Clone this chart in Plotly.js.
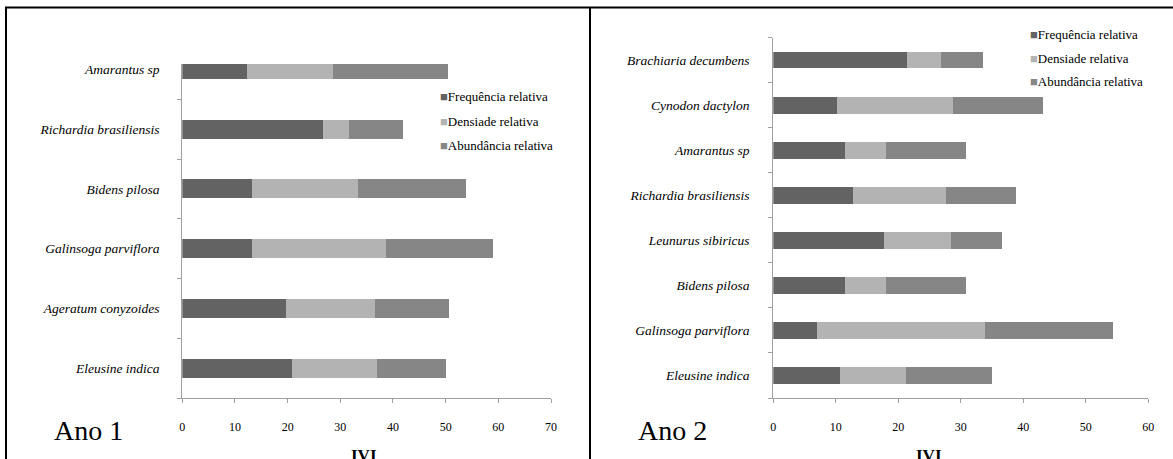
<!DOCTYPE html>
<html><head><meta charset="utf-8">
<script src="https://cdn.plot.ly/plotly-3.0.1.min.js"></script>
<style>html,body{margin:0;padding:0;background:#fff}#chart{width:1173px;height:459px}</style>
</head><body><div id="chart"></div>
<script>
const seriesNames = ['Frequência relativa', 'Densiade relativa', 'Abundância relativa'];
const seriesColors = ['#636363', '#b3b3b3', '#868686'];

// Ano 1 (listed top to bottom as in the chart)
const ano1Species = ['Amarantus sp', 'Richardia brasiliensis', 'Bidens pilosa', 'Galinsoga parviflora', 'Ageratum conyzoides', 'Eleusine indica'];
const ano1Freq  = [12.3, 26.7, 13.3, 13.3, 19.6, 20.8];
const ano1Dens  = [16.3, 4.9, 20.1, 25.3, 17.0, 16.1];
const ano1Abund = [21.8, 10.3, 20.4, 20.3, 14.1, 13.1];

// Ano 2 (listed top to bottom as in the chart)
const ano2Species = ['Brachiaria decumbens', 'Cynodon dactylon', 'Amarantus sp', 'Richardia brasiliensis', 'Leunurus sibiricus', 'Bidens pilosa', 'Galinsoga parviflora', 'Eleusine indica'];
const ano2Freq  = [21.4, 10.2, 11.4, 12.8, 17.7, 11.4, 7.0, 10.6];
const ano2Dens  = [5.4, 18.6, 6.6, 14.8, 10.8, 6.6, 26.8, 10.7];
const ano2Abund = [6.8, 14.4, 12.9, 11.3, 8.1, 12.9, 20.5, 13.7];

const xTicks1 = [0, 10, 20, 30, 40, 50, 60, 70];
const xTicks2 = [0, 10, 20, 30, 40, 50, 60];
const panelTitles = ['Ano 1', 'Ano 2'];
const axisTitle = 'IVI';

const W = 1173, H = 459;
const px = v => v / W;
const py = v => 1 - v / H;

const serif = 'Liberation Serif';
const axisGray = '#a0a0a0';

const traces = [];
[ano1Freq, ano1Dens, ano1Abund].forEach((vals, i) => {
  traces.push({type: 'bar', orientation: 'h', x: vals, y: ano1Species, name: seriesNames[i],
    marker: {color: seriesColors[i], line: {width: 0}}, width: 0.32, xaxis: 'x', yaxis: 'y',
    showlegend: false, hoverinfo: 'none'});
});
[ano2Freq, ano2Dens, ano2Abund].forEach((vals, i) => {
  traces.push({type: 'bar', orientation: 'h', x: vals, y: ano2Species, name: seriesNames[i],
    marker: {color: seriesColors[i], line: {width: 0}}, width: 0.37, xaxis: 'x2', yaxis: 'y2',
    showlegend: false, hoverinfo: 'none'});
});

function xAxis(ticks, dom, anchor) {
  return {domain: dom, anchor: anchor, range: [ticks[0], ticks[ticks.length - 1]],
    tickmode: 'array', tickvals: ticks, ticks: 'outside', ticklen: 4, tickcolor: axisGray,
    showline: true, linecolor: axisGray, linewidth: 1, showgrid: false, zeroline: false,
    ticklabelstandoff: 14,
    tickfont: {family: serif, size: 12, color: '#000'}};
}
function yAxis(cats, dom, anchor, top, standoff) {
  return {domain: dom, anchor: anchor, type: 'category', categoryorder: 'array',
    categoryarray: cats.slice().reverse(), range: [-0.5, top],
    tickson: 'boundaries', ticks: 'outside', ticklen: 4, tickcolor: axisGray,
    showline: true, linecolor: axisGray, linewidth: 1, showgrid: false, zeroline: false,
    ticklabelstandoff: standoff,
    tickfont: {family: serif, size: 13.5, style: 'italic', color: '#000'}};
}

const annotations = [];
function legendAnn(x0, ys) {
  seriesNames.forEach((n, i) => {
    annotations.push({xref: 'paper', yref: 'paper', x: px(x0), y: py(ys[i]), xanchor: 'left', yanchor: 'middle',
      showarrow: false, text: '<span style="color:' + seriesColors[i] + '">■</span>' + n,
      font: {family: serif, size: 13, color: '#000'}});
  });
}
legendAnn(438, [96.7, 121.2, 145]);
legendAnn(1028, [34.5, 58.5, 81.5]);

annotations.push({xref: 'paper', yref: 'paper', x: px(52), y: py(430), xanchor: 'left', yanchor: 'middle',
  showarrow: false, text: panelTitles[0], font: {family: serif, size: 28, color: '#000'}});
annotations.push({xref: 'paper', yref: 'paper', x: px(636), y: py(430), xanchor: 'left', yanchor: 'middle',
  showarrow: false, text: panelTitles[1], font: {family: serif, size: 28, color: '#000'}});
annotations.push({xref: 'paper', yref: 'paper', x: px(364), y: py(444), xanchor: 'center', yanchor: 'top',
  showarrow: false, text: '<b>' + axisTitle + '</b>', font: {family: serif, size: 17, color: '#000'}});
annotations.push({xref: 'paper', yref: 'paper', x: px(929), y: py(444), xanchor: 'center', yanchor: 'top',
  showarrow: false, text: '<b>' + axisTitle + '</b>', font: {family: serif, size: 17, color: '#000'}});

const frame = {type: 'line', xref: 'paper', yref: 'paper', line: {color: '#000', width: 2}};
const shapes = [
  Object.assign({}, frame, {x0: px(5), x1: 1, y0: py(7.5), y1: py(7.5)}),
  Object.assign({}, frame, {x0: px(6), x1: px(6), y0: py(7.5), y1: 0}),
  Object.assign({}, frame, {x0: px(590), x1: px(590), y0: py(7.5), y1: 0})
];

const layout = {
  width: W, height: H, margin: {l: 0, r: 0, t: 0, b: 0},
  paper_bgcolor: '#fff', plot_bgcolor: 'rgba(0,0,0,0)',
  barmode: 'stack', showlegend: false,
  xaxis: xAxis(xTicks1, [px(182.3), px(551)], 'y'),
  yaxis: yAxis(ano1Species, [py(398), py(64)], 'x', 5.09, 19),
  xaxis2: xAxis(xTicks2, [px(773.3), px(1148.3)], 'y2'),
  yaxis2: yAxis(ano2Species, [py(398), py(37.6)], 'x2', 7.5, 20),
  annotations: annotations, shapes: shapes
};

Plotly.newPlot('chart', traces, layout, {displayModeBar: false, staticPlot: true});
</script></body></html>
